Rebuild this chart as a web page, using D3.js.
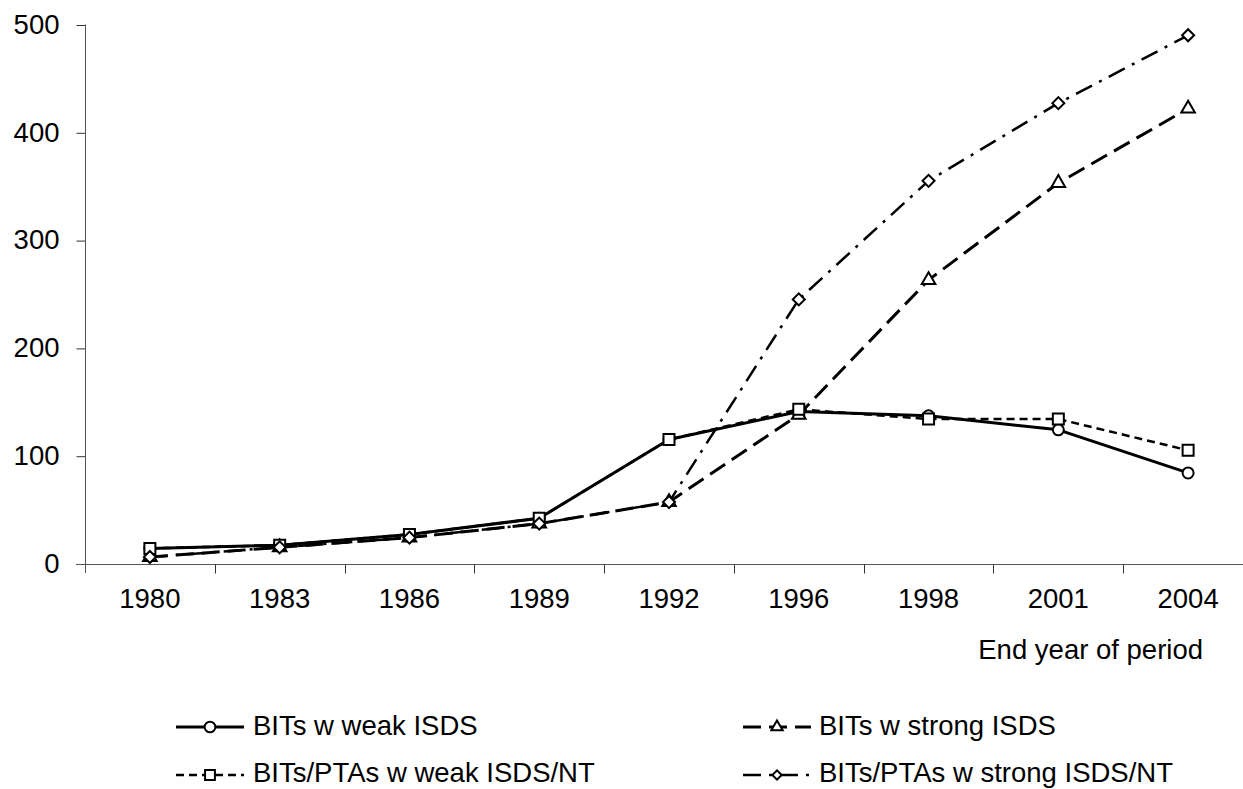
<!DOCTYPE html>
<html>
<head>
<meta charset="utf-8">
<script src="https://cdn.jsdelivr.net/npm/d3@7"></script>
<style>
  html, body { margin: 0; padding: 0; background: #fff; }
  svg { display: block; }
  text { font-family: "Liberation Sans", Arial, sans-serif; fill: #000; }
</style>
</head>
<body>
<svg id="chart" width="1243" height="789"></svg>
<script>
const categories = ["1980", "1983", "1986", "1989", "1992", "1996", "1998", "2001", "2004"];
const weakISDS     = [14, 17, 27, 42, 115, 141, 137, 124, 84];
const strongISDS   = [6, 15, 24, 37, 57, 138, 263, 353, 422];
const weakISDSNT   = [14, 17, 27, 42, 115, 143, 134, 134, 105];
const strongISDSNT = [6, 15, 24, 37, 57, 245, 355, 427, 490];
const yTicks = [0, 100, 200, 300, 400, 500];
const seriesNames = ["BITs w weak ISDS", "BITs w strong ISDS", "BITs/PTAs w weak ISDS/NT", "BITs/PTAs w strong ISDS/NT"];
const xTitle = "End year of period";

const series = [
  { name: seriesNames[0], values: weakISDS,     dash: null,       width: 3,   symbol: "circle",   ls: 0.95 },
  { name: seriesNames[1], values: strongISDS,   dash: "18,8",     width: 3,   symbol: "triangle", ls: 0.7 },
  { name: seriesNames[2], values: weakISDSNT,   dash: "8,5",      width: 2.5, symbol: "square",   ls: 0.8 },
  { name: seriesNames[3], values: strongISDSNT, dash: "18,8,3,8", width: 2.5, symbol: "diamond",  ls: 0.6 }
];

const svg = d3.select("#chart");
const FS = "27.5px";

const x = d3.scaleBand().domain(categories).range([85, 1253]).paddingInner(0).paddingOuter(0);
const y = d3.scaleLinear().domain([0, 500]).range([563.5, 24.5]);
const cx = c => x(c) + x.bandwidth() / 2;

// Y axis
const yAxis = d3.axisLeft(y).tickValues(yTicks).tickSize(9).tickPadding(17).tickFormat(d3.format("d"));
const gy = svg.append("g").attr("transform", "translate(85.5,0)").call(yAxis);
gy.select(".domain").remove();
gy.selectAll(".tick line").attr("stroke", "#333").attr("transform", "translate(0,0.5)");
gy.selectAll(".tick text").attr("font-size", FS).attr("font-family", "Liberation Sans, Arial, sans-serif").attr("fill", "#000");
svg.append("line").attr("x1", 85.5).attr("x2", 85.5).attr("y1", y(500)).attr("y2", 573).attr("stroke", "#555").attr("stroke-width", 1);

// X axis
const y0 = Math.round(y(0)) + 0.5;
svg.append("line").attr("x1", 76).attr("x2", 1253).attr("y1", y0).attr("y2", y0).attr("stroke", "#555");
const boundaries = categories.map(c => x(c)).concat([x.range()[1]]);
svg.append("g").selectAll("line").data(boundaries.slice(1)).join("line")
  .attr("x1", d => Math.round(d) + 0.5).attr("x2", d => Math.round(d) + 0.5)
  .attr("y1", y0).attr("y2", y0 + 9).attr("stroke", "#333");
svg.append("g").selectAll("text").data(categories).join("text")
  .attr("x", d => cx(d)).attr("y", 608).attr("text-anchor", "middle").attr("font-size", FS).text(d => d);
svg.append("text").attr("x", 1203).attr("y", 659).attr("text-anchor", "end").attr("font-size", FS).text(xTitle);

// Symbols
function symbolPath(kind, s) {
  if (kind === "circle") return d3.symbol(d3.symbolCircle, 95 * s)();
  if (kind === "square") return d3.symbol(d3.symbolSquare, 121 * s)();
  if (kind === "triangle") return d3.symbol(d3.symbolTriangle, 80 * s)();
  if (kind === "diamond") return d3.symbol(d3.symbolSquare, 72 * s)();
}
function drawSymbol(g, kind, px, py, s) {
  g.append("path").attr("d", symbolPath(kind, s))
    .attr("transform", `translate(${px},${py})` + (kind === "diamond" ? " rotate(45)" : ""))
    .attr("fill", "#fff").attr("stroke", "#000").attr("stroke-width", 2);
}

const line = d3.line().x((d, i) => cx(categories[i])).y(d => y(d));
series.forEach(s => {
  const g = svg.append("g");
  g.append("path").datum(s.values).attr("d", line)
    .attr("fill", "none").attr("stroke", "#000").attr("stroke-width", s.width)
    .attr("stroke-dasharray", s.dash).attr("stroke-linejoin", "round");
  s.values.forEach((v, i) => drawSymbol(g, s.symbol, cx(categories[i]), y(v), 1));
});

// Legend
const legendPos = [
  { lx: 176, ly: 727, tx: 253, ty: 735 },
  { lx: 743, ly: 727, tx: 819, ty: 735 },
  { lx: 176, ly: 775, tx: 253, ty: 782 },
  { lx: 743, ly: 775, tx: 819, ty: 782 }
];
series.forEach((s, i) => {
  const p = legendPos[i];
  const g = svg.append("g");
  g.append("line").attr("x1", p.lx).attr("x2", p.lx + 68).attr("y1", p.ly).attr("y2", p.ly)
    .attr("stroke", "#000").attr("stroke-width", s.width).attr("stroke-dasharray", s.dash);
  drawSymbol(g, s.symbol, p.lx + 34, p.ly, s.ls);
  g.append("text").attr("x", p.tx).attr("y", p.ty).attr("font-size", FS).text(s.name);
});
</script>
</body>
</html>
